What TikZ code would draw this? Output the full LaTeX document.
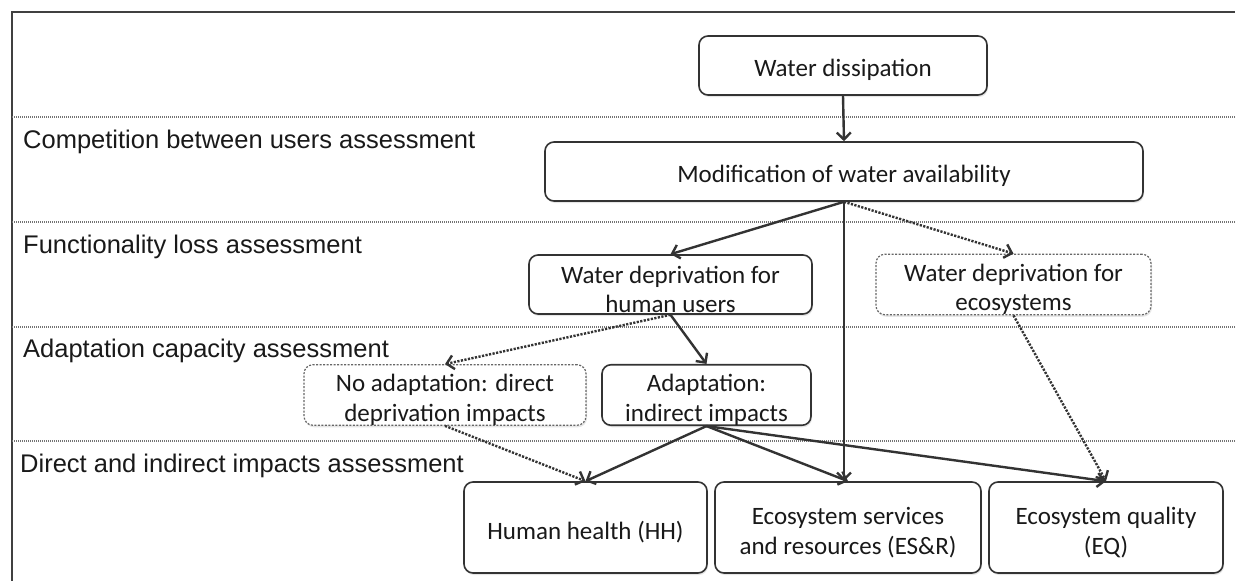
\documentclass[tikz,border=0pt]{standalone}
\usepackage{fontspec}
\setmainfont{Carlito}
\newfontfamily\labelfont{Liberation Sans}
\usetikzlibrary{arrows.meta,shadows}
% tall zero-width strut on the first text line, so the text sits a little low in its box
\newcommand\firstline{\rule{0pt}{27pt}}

\begin{document}
\begin{tikzpicture}[x=1pt,y=-1pt,
  box/.style={draw=black!80, line width=1.6pt, rounded corners=9pt, fill=white,
    align=center, inner sep=0pt, text=black!90,
    font=\fontsize{25}{29.5}\selectfont,
    drop shadow={shadow xshift=1pt, shadow yshift=-2pt, opacity=0.2}},
  dotbox/.style={box, draw=black!60, line width=1.2pt, dash pattern=on 2pt off 1.5pt},
  lab/.style={anchor=base west, inner sep=0pt, text=black!90,
    font=\labelfont\fontsize{25.5}{29}\selectfont},
  sep/.style={draw=black!55, line width=1.4pt, dash pattern=on 1pt off 1pt},
  arr/.style={draw=black!80, line width=2.4pt, -{Straight Barb[length=7pt,width=14pt]}},
  darr/.style={arr, dash pattern=on 2.2pt off 1.4pt}
]
\useasboundingbox (0,0) rectangle (1235,581);

% frame
\draw[black!75, line width=2.6pt] (1235,12) -- (12,12) -- (12,581);

% level separators
\coordinate (s1a) at (12,117);  \coordinate (s1b) at (1235,117);
\coordinate (s2a) at (12,222);  \coordinate (s2b) at (1235,222);
\coordinate (s3a) at (12,327);  \coordinate (s3b) at (1235,327);
\coordinate (s4a) at (12,441);  \coordinate (s4b) at (1235,441);
\draw[sep] (s1a) -- (s1b);
\draw[sep] (s2a) -- (s2b);
\draw[sep] (s3a) -- (s3b);
\draw[sep] (s4a) -- (s4b);

% level names
\node[lab] (l1) at (23,148) {Competition between users assessment};
\node[lab] (l2) at (23,253) {Functionality loss assessment};
\node[lab] (l3) at (23,357) {Adaptation capacity assessment};
\node[lab] (l4) at (20,472) {Direct and indirect impacts assessment};

% boxes
\node[box, minimum width=288pt, minimum height=59pt] (diss) at (843,65.5) {\firstline Water dissipation};
\node[box, minimum width=598pt, minimum height=59pt] (mod) at (844,171.5) {\firstline Modification of water availability};
\node[box, minimum width=283pt, minimum height=59pt] (hum) at (670.5,284.5) {\firstline Water deprivation for\\human users};
\node[dotbox, minimum width=275pt, minimum height=59pt] (eco) at (1013.5,284.5) {\firstline Water deprivation for\\ecosystems};
\node[dotbox, minimum width=282pt, minimum height=60pt] (noad) at (445,395) {\firstline No adaptation: direct\\deprivation impacts};
\node[box, minimum width=209pt, minimum height=58pt] (adap) at (706.5,395) {\firstline Adaptation:\\indirect impacts};
\node[box, minimum width=243pt, minimum height=91pt] (hh) at (585.5,527.5) {\firstline Human health (HH)};
\node[box, minimum width=266pt, minimum height=91pt] (esr) at (848,527.5) {\firstline Ecosystem services\\and resources (ES\&R)};
\node[box, minimum width=234pt, minimum height=91pt] (eq) at (1106,527.5) {\firstline Ecosystem quality\\(EQ)};

% connectors
\draw[arr] (diss.south) -- (mod.north);
\draw[arr] (mod.south) -- (hum.north);
\draw[darr] (mod.south) -- (eco.north);
\draw[arr] (mod.south) -- (mod.south |- esr.north);
\draw[arr] (hum.south) -- (adap.north);
\draw[darr] (hum.south) -- (noad.north);
\draw[arr] (adap.south) -- (hh.north);
\draw[arr] (adap.south) -- (esr.north);
\draw[arr] (adap.south) -- (eq.north);
\draw[darr] (noad.south) -- (hh.north);
\draw[darr] (eco.south) -- (eq.north);
\end{tikzpicture}
\end{document}
